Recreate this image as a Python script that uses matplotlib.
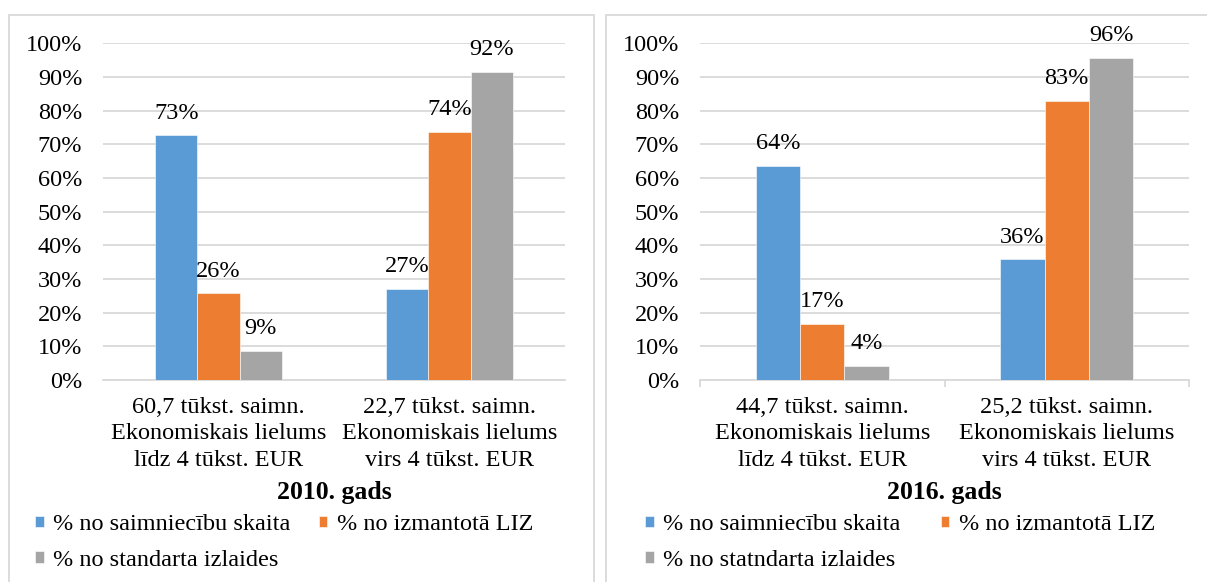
import numpy as np
import matplotlib
matplotlib.use("Agg")
import matplotlib.pyplot as plt
from matplotlib.patches import Rectangle

plt.rcParams['font.family'] = ['Liberation Serif', 'DejaVu Serif']

# data (shares, 0..1)
categories_2010 = ["60,7 tūkst. saimn.\nEkonomiskais lielums\nlīdz 4 tūkst. EUR",
                   "22,7 tūkst. saimn.\nEkonomiskais lielums\nvirs 4 tūkst. EUR"]
categories_2016 = ["44,7 tūkst. saimn.\nEkonomiskais lielums\nlīdz 4 tūkst. EUR",
                   "25,2 tūkst. saimn.\nEkonomiskais lielums\nvirs 4 tūkst. EUR"]
series_2010 = ["% no saimniecību skaita", "% no izmantotā LIZ", "% no standarta izlaides"]
series_2016 = ["% no saimniecību skaita", "% no izmantotā LIZ", "% no statndarta izlaides"]
farms_2010 = [0.727, 0.270]
land_2010 = [0.257, 0.738]
output_2010 = [0.086, 0.916]
farms_2016 = [0.637, 0.358]
land_2016 = [0.167, 0.830]
output_2016 = [0.042, 0.956]
yticks = np.arange(0, 1.01, 0.1)

colors = ['#5B9BD5', '#ED7D31', '#A5A5A5']
grid_c = '#D9D9D9'
FS = 17.5
font = {'family': ['Liberation Serif', 'DejaVu Serif'], 'size': FS}

W, H = 1207, 582
fig = plt.figure(figsize=(W / 100, H / 100), dpi=100)


def px(x0, y0, x1, y1):
    # pixel box (top-left origin) -> figure fraction rect
    return [x0 / W, 1 - y1 / H, (x1 - x0) / W, (y1 - y0) / H]


def panel(box, cats, names, vals, title, legend_xy, colspace, ticks):
    ax = fig.add_axes(px(*box))
    x = np.arange(len(cats))
    bw = 0.182
    handles = []
    for i, (v, name) in enumerate(zip(vals, names)):
        bars = ax.bar(x + (i - 1) * bw, v, bw, color=colors[i], label=name,
                      edgecolor='white', linewidth=0.4, zorder=3)
        handles.append(bars)
        for b, val in zip(bars, v):
            ax.annotate(f"{val:.0%}", (b.get_x() + b.get_width() / 2, val),
                        xytext=(0, 12), textcoords='offset points',
                        ha='center', va='baseline', fontproperties=font)
    ax.set_xlim(-0.5, len(cats) - 0.5)
    ax.set_ylim(0, 1.0)
    ax.set_yticks(yticks)
    ax.set_yticklabels([f"{t:.0%}" for t in yticks], fontproperties=font)
    ax.grid(axis='y', color=grid_c, linewidth=1.3, zorder=0)
    ax.set_axisbelow(True)
    for s in ['top', 'right', 'left']:
        ax.spines[s].set_visible(False)
    ax.spines['bottom'].set_color(grid_c)
    ax.spines['bottom'].set_linewidth(1.3)
    ax.set_xticks(x)
    ax.set_xticklabels(cats, linespacing=1.36, fontproperties=font)
    ax.tick_params(axis='y', length=0, pad=15)
    ax.tick_params(axis='x', length=0, pad=12)
    if ticks:
        ax.set_xticks(np.arange(-0.5, len(cats), 1.0), minor=True)
        ax.tick_params(axis='x', which='minor', length=5, color=grid_c, width=1.3)
    cx = box[0] + (box[2] - box[0]) / 2
    fig.text(cx / W, 1 - 492 / H, title, ha='center', va='center',
             family=['Liberation Serif'], fontsize=18.5, fontweight='bold')
    # row-wise order like the original: blue, orange / gray
    order = [0, 2, 1]
    ax.legend([handles[k] for k in order], [names[k] for k in order],
              loc='upper left', bbox_to_anchor=(legend_xy[0] / W, 1 - legend_xy[1] / H),
              bbox_transform=fig.transFigure, ncol=2, frameon=False, prop=font,
              handlelength=0.35, handleheight=0.35, handletextpad=0.4,
              columnspacing=colspace, labelspacing=0.6, borderpad=0, borderaxespad=0)
    return ax


panel((103, 43.3, 565, 380), categories_2010, series_2010,
      [farms_2010, land_2010, output_2010], "2010. gads", (35, 514), 1.15, False)
panel((700, 43.3, 1189, 380), categories_2016, series_2016,
      [farms_2016, land_2016, output_2016], "2016. gads", (645, 514), 1.65, True)

# panel frames
for x0, x1 in [(9, 594), (606, 1230)]:
    fig.patches.append(Rectangle((x0 / W, -0.05), (x1 - x0) / W, 1.05 - 14.7 / H,
                                 transform=fig.transFigure, fill=False,
                                 edgecolor=grid_c, linewidth=1.3))

fig.savefig("out.png", dpi=100)
